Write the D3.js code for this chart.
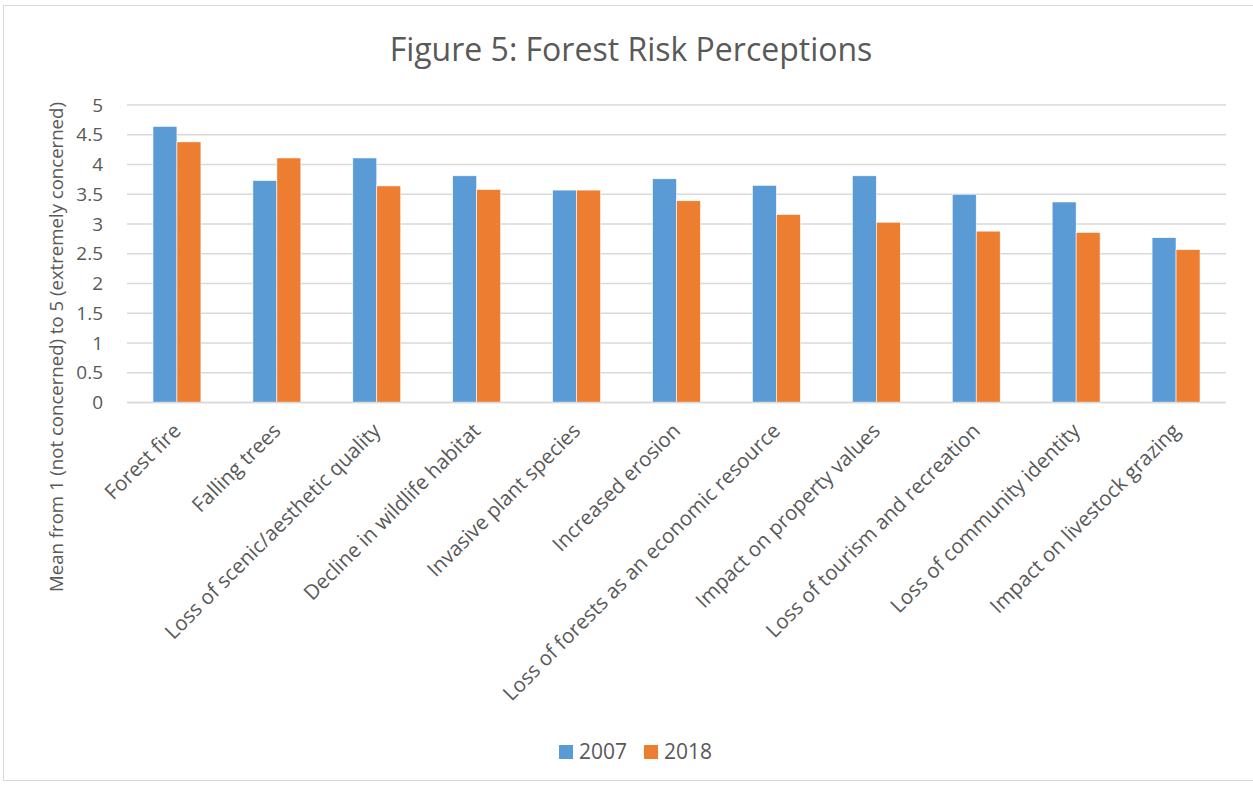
<!DOCTYPE html>
<html>
<head>
<meta charset="utf-8">
<script src="https://cdn.jsdelivr.net/npm/d3@7"></script>
<style>
  body { margin: 0; background: #fff; }
  text { font-family: "Open Sans", sans-serif; fill: #595959; }
</style>
</head>
<body>
<script>
// chart data
var categories = ["Forest fire", "Falling trees", "Loss of scenic/aesthetic quality",
  "Decline in wildlife habitat", "Invasive plant species", "Increased erosion",
  "Loss of forests as an economic resource", "Impact on property values",
  "Loss of tourism and recreation", "Loss of community identity", "Impact on livestock grazing"];
var seriesNames = ["2007", "2018"];
var values2007 = [4.64, 3.73, 4.11, 3.81, 3.57, 3.76, 3.65, 3.81, 3.50, 3.37, 2.77];
var values2018 = [4.38, 4.11, 3.64, 3.58, 3.57, 3.39, 3.16, 3.03, 2.88, 2.86, 2.57];
var yTicks = [0, 0.5, 1, 1.5, 2, 2.5, 3, 3.5, 4, 4.5, 5];
var colors = ["#5b9bd5", "#ed7d31"];

var width = 1253, height = 786;
var plotLeft = 127, plotRight = 1226, plotTop = 105, plotBottom = 402.5;

var svg = d3.select("body").append("svg")
  .attr("width", width)
  .attr("height", height);

// outer frame
svg.append("rect")
  .attr("x", 3.5).attr("y", 5.5)
  .attr("width", 1260).attr("height", 775)
  .attr("fill", "none").attr("stroke", "#d9d9d9");

var x = d3.scaleBand().domain(categories).range([plotLeft, plotRight]).paddingInner(0.52).paddingOuter(0.26);
var xs = d3.scaleBand().domain(seriesNames).range([0, x.bandwidth()]);
var y = d3.scaleLinear().domain([0, 5]).range([plotBottom, plotTop]);

// gridlines
svg.append("g").selectAll("line")
  .data(yTicks)
  .enter().append("line")
  .attr("x1", plotLeft).attr("x2", plotRight)
  .attr("y1", function(d) { return y(d); })
  .attr("y2", function(d) { return y(d); })
  .attr("stroke", "#d9d9d9")
  .attr("stroke-width", 1.3);

// y tick labels
svg.append("g").selectAll("text")
  .data(yTicks)
  .enter().append("text")
  .attr("x", 103)
  .attr("y", function(d) { return y(d); })
  .attr("dy", "0.35em")
  .attr("text-anchor", "end")
  .style("font-size", "19px")
  .text(function(d) { return d; });

// bars
var rows = categories.map(function(c, i) { return { cat: c, vals: [values2007[i], values2018[i]] }; });
var groups = svg.append("g").selectAll("g")
  .data(rows)
  .enter().append("g")
  .attr("transform", function(d) { return "translate(" + x(d.cat) + ",0)"; });

groups.selectAll("rect")
  .data(function(d) { return d.vals.map(function(v, j) { return { s: seriesNames[j], v: v, j: j }; }); })
  .enter().append("rect")
  .attr("x", function(d) { return xs(d.s); })
  .attr("y", function(d) { return y(d.v); })
  .attr("width", xs.bandwidth())
  .attr("height", function(d) { return y(0) - y(d.v); })
  .attr("fill", function(d) { return colors[d.j]; })
  .attr("stroke", "#fff")
  .attr("stroke-width", 0.6);

// baseline
svg.append("line")
  .attr("x1", plotLeft).attr("x2", plotRight)
  .attr("y1", y(0)).attr("y2", y(0))
  .attr("stroke", "#d9d9d9").attr("stroke-width", 1.3);

// category labels
svg.append("g").selectAll("text")
  .data(categories)
  .enter().append("text")
  .attr("transform", function(d) {
    return "translate(" + (x(d) + x.bandwidth() / 2) + ",427) rotate(-45)";
  })
  .attr("text-anchor", "end")
  .attr("dy", "0.35em")
  .style("font-size", "20.5px")
  .text(function(d) { return d; });

// y axis title
svg.append("text")
  .attr("transform", "translate(63,347) rotate(-90)")
  .attr("text-anchor", "middle")
  .style("font-size", "18.6px")
  .text("Mean from 1 (not concerned) to 5 (extremely concerned)");

// title
svg.append("text")
  .attr("x", 631).attr("y", 61)
  .attr("text-anchor", "middle")
  .style("font-size", "32px")
  .text("Figure 5: Forest Risk Perceptions");

// legend
var legend = svg.append("g").selectAll("g")
  .data(seriesNames)
  .enter().append("g")
  .attr("transform", function(d, i) { return "translate(" + (559 + i * 85) + ",745)"; });
legend.append("rect")
  .attr("width", 14).attr("height", 14)
  .attr("fill", function(d, i) { return colors[i]; });
legend.append("text")
  .attr("x", 20).attr("y", 14)
  .style("font-size", "21px")
  .text(function(d) { return d; });
</script>
</body>
</html>
